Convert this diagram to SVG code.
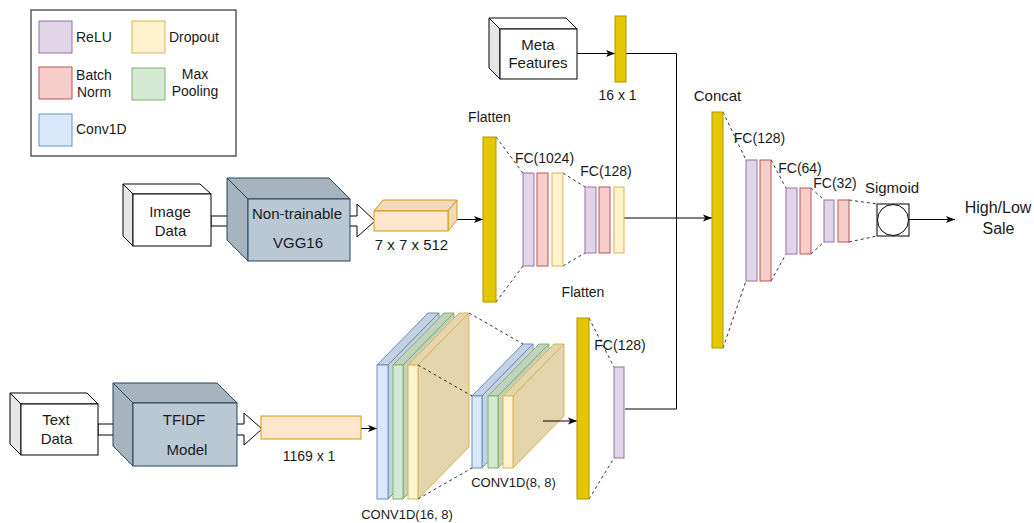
<svg xmlns="http://www.w3.org/2000/svg" width="1034" height="523" viewBox="0 0 1034 523">
<defs>
<marker id="ah" markerWidth="10" markerHeight="8" refX="9" refY="4" orient="auto" markerUnits="userSpaceOnUse">
<path d="M0,0.5 L9,4 L0,7.5 L2.2,4 Z" fill="#000"/>
</marker>
<style>
text{font-family:"Liberation Sans",Arial,sans-serif;fill:#1a1a1a}
.t14{font-size:14px}
.t15{font-size:15px}
.t16{font-size:16px}
.t12{font-size:13px}
.mid{text-anchor:middle}
.relu{fill:#e1d5e7;stroke:#9673a6;stroke-width:1}
.bn{fill:#f8cecc;stroke:#b85450;stroke-width:1}
.drop{fill:#fff2cc;stroke:#d6b656;stroke-width:1}
.pool{fill:#d5e8d4;stroke:#82b366;stroke-width:1}
.conv{fill:#dae8fc;stroke:#6c8ebf;stroke-width:1}
.flat{fill:#e3c800;stroke:#b09500;stroke-width:1}
.dash{stroke:#333;stroke-width:1;stroke-dasharray:3,3;fill:none}
.ln{stroke:#000;stroke-width:1;fill:none}
.wc{fill:#fff;stroke:#000;stroke-width:1}
.wcs{fill:#e6e6e6;stroke:#000;stroke-width:1}
.gc{fill:#bac8d3;stroke:#23445d;stroke-width:1}
.gcs{fill:#a7b4be;stroke:#23445d;stroke-width:1}
.oc{fill:#ffe6cc;stroke:#d79b00;stroke-width:1}
.ocs{fill:#f2d9bd;stroke:#d79b00;stroke-width:1}
.convs{fill:#c4d1e3;stroke:#6c8ebf;stroke-width:1}
.pools{fill:#c0d1bf;stroke:#82b366;stroke-width:1}
.drops{fill:#e5d5ad;stroke:#d6b656;stroke-width:1}
.fa{fill:#fff;stroke:#000;stroke-width:1}
</style>
</defs>
<rect width="1034" height="523" fill="#fff"/>

<g id="legend">
<rect x="31" y="10" width="205" height="146" fill="#fff" stroke="#333" stroke-width="1.2"/>
<rect x="39" y="21" width="33" height="32" class="relu"/>
<text x="76" y="42" class="t14">ReLU</text>
<rect x="132" y="21" width="33" height="32" class="drop"/>
<text x="169" y="42" class="t14">Dropout</text>
<rect x="39" y="67" width="33" height="32" class="bn"/>
<text x="94" y="80" class="t14 mid">Batch</text>
<text x="94" y="97" class="t14 mid">Norm</text>
<rect x="132" y="68" width="33" height="32" class="pool"/>
<text x="195" y="79" class="t14 mid">Max</text>
<text x="195" y="96" class="t14 mid">Pooling</text>
<rect x="39" y="114" width="33" height="32" class="conv"/>
<text x="76" y="134" class="t14">Conv1D</text>
</g>

<g id="connectors">
<rect x="211" y="216" width="17" height="10" class="fa"/>
<path d="M349,216 L357,216 L357,204 L375,221 L357,237 L357,226 L349,226" class="fa"/>
<rect x="98" y="424" width="16" height="11" class="fa"/>
<path d="M236,424 L244,424 L244,413 L262,429 L244,445 L244,435 L236,435" class="fa"/>
<line x1="457" y1="219.5" x2="483" y2="219.5" class="ln" marker-end="url(#ah)"/>
<line x1="624" y1="218" x2="712" y2="218" class="ln" marker-end="url(#ah)"/>
<line x1="577" y1="53.5" x2="615" y2="53.5" class="ln" marker-end="url(#ah)"/>
<path d="M626,53.5 L676.5,53.5 L676.5,409 L625,409" class="ln"/>
<line x1="361" y1="428.5" x2="377" y2="428.5" class="ln" marker-end="url(#ah)"/>
<line x1="909" y1="219.5" x2="955" y2="219.5" class="ln" marker-end="url(#ah)"/>
<line x1="496" y1="137" x2="523" y2="173" class="dash"/>
<line x1="496" y1="302" x2="523" y2="266" class="dash"/>
<line x1="563" y1="173" x2="585" y2="187" class="dash"/>
<line x1="563" y1="266" x2="585" y2="253" class="dash"/>
<line x1="723" y1="112" x2="746" y2="160" class="dash"/>
<line x1="723" y1="348" x2="746" y2="281" class="dash"/>
<line x1="771" y1="160" x2="786" y2="188" class="dash"/>
<line x1="771" y1="281" x2="786" y2="254" class="dash"/>
<line x1="811" y1="188" x2="824" y2="200" class="dash"/>
<line x1="811" y1="254" x2="824" y2="242" class="dash"/>
<line x1="849" y1="200" x2="877" y2="204" class="dash"/>
<line x1="849" y1="242" x2="877" y2="236" class="dash"/>
<line x1="589" y1="318" x2="614" y2="367" class="dash"/>
<line x1="589" y1="499" x2="614" y2="458" class="dash"/>
</g>

<g id="image-data">
<polygon points="123,184 200,184 211,194 133,194" class="wc"/>
<polygon points="123,184 133,194 133,246 123,236" class="wcs"/>
<rect x="133" y="194" width="78" height="52" class="wc"/>
<text x="170" y="217" class="t15 mid">Image</text>
<text x="170.5" y="236" class="t15 mid">Data</text>
</g>

<g id="vgg16">
<polygon points="227,178 329,178 350,199 248,199" class="gcs"/>
<polygon points="227,178 248,199 248,261 227,240" class="gcs"/>
<rect x="248" y="199" width="102" height="62" class="gc"/>
<text x="297" y="219" class="t15 mid">Non-trainable</text>
<text x="298" y="248" class="t15 mid">VGG16</text>
</g>

<g id="vgg-output">
<polygon points="374,211 383,200 457,200 448,211" class="ocs"/>
<polygon points="448,211 457,200 457,220 448,231" class="ocs"/>
<rect x="374" y="211" width="74" height="20" class="oc"/>
<text x="411.5" y="250" class="t15 mid">7 x 7 x 512</text>
</g>

<g id="flatten-image">
<rect x="483" y="137" width="13" height="165" class="flat"/>
<text x="489.5" y="122" class="t14 mid">Flatten</text>
</g>

<g id="fc1024">
<rect x="523" y="173" width="11" height="93" class="relu"/>
<rect x="537" y="173" width="11" height="93" class="bn"/>
<rect x="552" y="173" width="11" height="93" class="drop"/>
<text x="544.5" y="163" class="t14 mid">FC(1024)</text>
</g>

<g id="fc128-image">
<rect x="585" y="187" width="11" height="66" class="relu"/>
<rect x="599" y="187" width="11" height="66" class="bn"/>
<rect x="614" y="187" width="10" height="66" class="drop"/>
<text x="606" y="176" class="t14 mid">FC(128)</text>
</g>

<g id="meta-features">
<polygon points="489,18 566,18 577,29 500,29" class="wc"/>
<polygon points="489,18 500,29 500,79 489,68" class="wcs"/>
<rect x="500" y="29" width="77" height="50" class="wc"/>
<text x="538" y="50" class="t15 mid">Meta</text>
<text x="538" y="68" class="t15 mid">Features</text>
</g>

<g id="meta-vector">
<rect x="615" y="16" width="11" height="66" class="flat"/>
<text x="617.5" y="100" class="t14 mid">16 x 1</text>
</g>

<g id="concat">
<rect x="712" y="112" width="11" height="236" class="flat"/>
<text x="717.5" y="101" class="t15 mid">Concat</text>
</g>

<g id="fc128-concat">
<rect x="746" y="160" width="11" height="121" class="relu"/>
<rect x="760" y="160" width="11" height="121" class="bn"/>
<text x="759.5" y="143" class="t14 mid">FC(128)</text>
</g>

<g id="fc64">
<rect x="786" y="188" width="11" height="66" class="relu"/>
<rect x="800" y="188" width="11" height="66" class="bn"/>
<text x="800" y="173" class="t14 mid">FC(64)</text>
</g>

<g id="fc32">
<rect x="824" y="200" width="10" height="42" class="relu"/>
<rect x="838" y="200" width="11" height="42" class="bn"/>
<text x="835" y="188" class="t14 mid">FC(32)</text>
</g>

<g id="sigmoid">
<rect x="877" y="204" width="32" height="32" fill="#fff" stroke="#000" stroke-width="1"/>
<circle cx="893" cy="220" r="15.5" fill="#fff" stroke="#000" stroke-width="1"/>
<text x="892" y="193" class="t15 mid">Sigmoid</text>
</g>

<g id="output">
<text x="998" y="213" class="t16 mid">High/Low</text>
<text x="998.5" y="234" class="t16 mid">Sale</text>
</g>

<g id="text-data">
<polygon points="10,393 87,393 98,404 21,404" class="wc"/>
<polygon points="10,393 21,404 21,455 10,444" class="wcs"/>
<rect x="21" y="404" width="77" height="51" class="wc"/>
<text x="56" y="425" class="t15 mid">Text</text>
<text x="56.5" y="444" class="t15 mid">Data</text>
</g>

<g id="tfidf">
<polygon points="113,383 217,383 237,403 133,403" class="gcs"/>
<polygon points="113,383 133,403 133,466 113,446" class="gcs"/>
<rect x="133" y="403" width="104" height="63" class="gc"/>
<text x="184" y="425" class="t15 mid">TFIDF</text>
<text x="187" y="455" class="t15 mid">Model</text>
</g>

<g id="tfidf-output">
<rect x="261" y="416" width="100" height="23" class="oc"/>
<text x="309" y="461" class="t14 mid">1169 x 1</text>
</g>

<g id="conv1d-16-8">
<polygon points="377,365 428,313 439,313 388,365" class="convs"/>
<polygon points="388,365 439,313 439,447 388,499" class="convs"/>
<rect x="377" y="365" width="11" height="134" class="conv"/>
<polygon points="393,365 444,313 454,313 403,365" class="pools"/>
<polygon points="403,365 454,313 454,447 403,499" class="pools"/>
<rect x="393" y="365" width="10" height="134" class="pool"/>
<polygon points="408,365 459,313 469,313 418,365" class="drops"/>
<polygon points="418,365 469,313 469,447 418,499" class="drops"/>
<rect x="408" y="365" width="10" height="134" class="drop"/>
<text x="407" y="519" class="t12 mid">CONV1D(16, 8)</text>
</g>

<g id="conv1d-8-8">
<polygon points="472,396 523,344 533,344 482,396" class="convs"/>
<polygon points="482,396 533,344 533,416 482,468" class="convs"/>
<rect x="472" y="396" width="10" height="72" class="conv"/>
<polygon points="488,396 539,344 549,344 498,396" class="pools"/>
<polygon points="498,396 549,344 549,416 498,468" class="pools"/>
<rect x="488" y="396" width="10" height="72" class="pool"/>
<polygon points="503,396 554,344 564,344 513,396" class="drops"/>
<polygon points="513,396 564,344 564,416 513,468" class="drops"/>
<rect x="503" y="396" width="10" height="72" class="drop"/>
<text x="513.5" y="487" class="t12 mid">CONV1D(8, 8)</text>
</g>

<g id="conv-dashes">
<line x1="469" y1="313" x2="523" y2="344" class="dash"/>
<line x1="418" y1="365" x2="472" y2="396" class="dash"/>
<line x1="418" y1="499" x2="472" y2="468" class="dash"/>
</g>

<g id="conv-arrow">
<line x1="543" y1="421" x2="577" y2="421" class="ln" marker-end="url(#ah)"/>
</g>

<g id="flatten-text">
<rect x="577" y="318" width="12" height="181" class="flat"/>
<text x="583" y="297" class="t14 mid">Flatten</text>
</g>

<g id="fc128-text">
<rect x="614" y="367" width="10" height="91" class="relu"/>
<text x="620" y="350" class="t14 mid">FC(128)</text>
</g>
</svg>
